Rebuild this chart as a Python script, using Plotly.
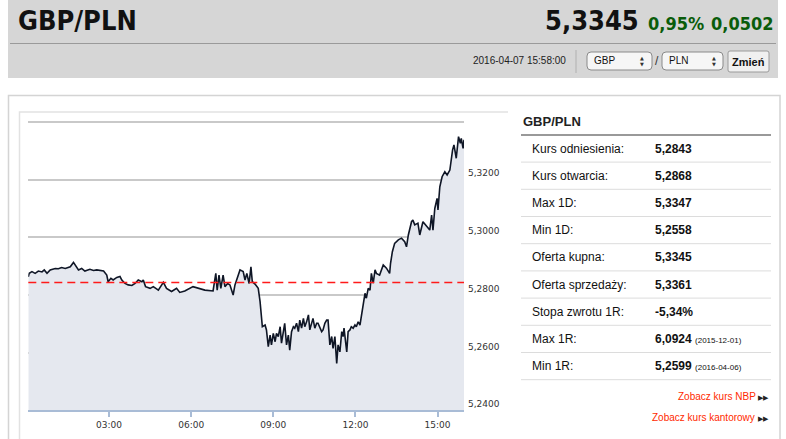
import datetime as dt
import plotly.graph_objects as go

# ---------------- data ----------------
minutes = [3, 5, 11, 18, 25, 33, 38, 44, 51, 62, 69, 76, 84, 95, 102, 106, 113, 120, 127, 138,
           146, 153, 168, 175, 178, 184, 189, 197, 204, 208, 215, 222, 230, 237, 244, 252, 255, 260, 268,
           270, 277, 288, 299, 306, 317, 328, 335, 346, 364, 375, 390, 408, 414, 417, 421, 425, 430,
           434, 440, 445, 452, 456, 467, 474, 478, 482, 487, 491, 494, 500,
           507, 511, 516, 522, 525, 529, 533, 536, 540, 544, 547, 551, 555, 558, 562, 565, 569, 573,
           576, 580, 584, 587, 591, 595, 598, 602, 606, 609, 613, 617, 620, 624, 627, 631, 635, 638,
           642, 646, 649, 653, 657, 660, 664, 668, 671, 675, 679, 682, 686, 690, 693, 695, 701, 704,
           708, 711, 715, 719, 722, 726, 730, 733, 737, 741, 744, 748, 752, 755, 759, 763, 766, 773,
           781, 788, 795, 797, 801, 806, 814, 821, 828, 832, 836, 843, 846, 850, 857, 861, 868, 876,
           883, 887, 890, 894, 899, 901, 905, 910, 916, 921, 927, 933, 936, 941, 943, 946, 950, 952,
           956, 958]
rates = [5.2863, 5.2875, 5.2881, 5.2875, 5.2883, 5.2880, 5.2887, 5.2875, 5.2887, 5.2892, 5.2891,
         5.2895, 5.2892, 5.2898, 5.2913, 5.2904, 5.2887, 5.2892, 5.2883, 5.2889, 5.2885, 5.2887,
         5.2883, 5.2869, 5.2846, 5.2858, 5.2852, 5.2861, 5.2864, 5.2852, 5.2840, 5.2835, 5.2833,
         5.2840, 5.2852, 5.2846, 5.2852, 5.2829, 5.2823,
         5.2823, 5.2829, 5.2817, 5.2844, 5.2823, 5.2812, 5.2823, 5.2809, 5.2814, 5.2829, 5.2823,
         5.2817, 5.2814, 5.2875, 5.2817, 5.2869, 5.2823, 5.2869, 5.2829, 5.2840, 5.2835, 5.2800,
         5.2835, 5.2887, 5.2881, 5.2852, 5.2875, 5.2840, 5.2898, 5.2846, 5.2838,
         5.2823, 5.2777, 5.2690, 5.2696, 5.2679, 5.2621, 5.2661, 5.2627, 5.2667, 5.2638, 5.2667,
         5.2656, 5.2690, 5.2633, 5.2679, 5.2702, 5.2627, 5.2661, 5.2609, 5.2673, 5.2690, 5.2685,
         5.2702, 5.2673, 5.2713, 5.2685, 5.2719, 5.2690, 5.2707, 5.2731, 5.2679, 5.2707, 5.2719,
         5.2685, 5.2702, 5.2702, 5.2690, 5.2673, 5.2679, 5.2702, 5.2713, 5.2713, 5.2627, 5.2656,
         5.2615, 5.2656, 5.2563, 5.2627, 5.2603, 5.2673, 5.2656, 5.2685, 5.2603, 5.2673, 5.2679,
         5.2690, 5.2685, 5.2696, 5.2690, 5.2707, 5.2696, 5.2731, 5.2777, 5.2806, 5.2789, 5.2823,
         5.2817, 5.2875, 5.2841, 5.2887, 5.2875, 5.2869, 5.2904, 5.2893, 5.2875, 5.2910, 5.2950,
         5.2979, 5.2991, 5.2997, 5.2985, 5.2967, 5.3008, 5.3054, 5.3060, 5.3043, 5.3049, 5.3008,
         5.3054, 5.3037, 5.3025, 5.3077, 5.3025, 5.3100, 5.3135, 5.3095, 5.3175, 5.3210, 5.3227,
         5.3216, 5.3233, 5.3303, 5.3320, 5.3274, 5.3308, 5.3349, 5.3326, 5.3343, 5.3308, 5.3338]

reference_rate = 5.2843
y_ticks = [5.24, 5.26, 5.28, 5.30, 5.32, 5.34]
y_tick_text = ["5,2400", "5,2600", "5,2800", "5,3000", "5,3200", ""]
y_range = [5.24, 5.342]
x_tick_hours = [3, 6, 9, 12, 15]

pair = "GBP/PLN"
last_rate = "5,3345"
change_pct = "0,95%"
change_abs = "0,0502"
timestamp = "2016-04-07 15:58:00"

table_labels = ["Kurs odniesienia:", "Kurs otwarcia:", "Max 1D:", "Min 1D:", "Oferta kupna:",
                "Oferta sprzedaży:", "Stopa zwrotu 1R:", "Max 1R:", "Min 1R:"]
table_values = ["5,2843", "5,2868", "5,3347", "5,2558", "5,3345", "5,3361", "-5,34%",
                "6,0924", "5,2599"]
table_dates = ["", "", "", "", "", "", "", "(2015-12-01)", "(2016-04-06)"]

# ---------------- helpers ----------------
W, H = 786, 439
base = dt.datetime(2016, 4, 7)
times = [base + dt.timedelta(minutes=m) for m in minutes]


def px(x):
    return x / W


def py(y):
    return 1 - y / H


fig = go.Figure()
fig.add_trace(go.Scatter(
    x=times, y=rates, mode="lines",
    line=dict(color="#0f1626", width=1.6),
    fill="tozeroy", fillcolor="rgb(229,232,239)",
    hoverinfo="skip", showlegend=False))

shapes = []
ann = []

# header
shapes.append(dict(type="rect", xref="paper", yref="paper", x0=px(8), x1=px(778), y0=py(0), y1=py(78),
                   fillcolor="#d6d6d6", line=dict(width=0), layer="below"))
shapes.append(dict(type="line", xref="paper", yref="paper", x0=px(10), x1=px(776), y0=py(43.5), y1=py(43.5),
                   line=dict(color="#9a9a9a", width=1)))
shapes.append(dict(type="line", xref="paper", yref="paper", x0=px(576), x1=px(576), y0=py(50), y1=py(73),
                   line=dict(color="#b0b0b0", width=1)))


def rrect(x0, y0, x1, y1, r, fill, line):
    path = (f"M {px(x0 + r)},{py(y0)} L {px(x1 - r)},{py(y0)} Q {px(x1)},{py(y0)} {px(x1)},{py(y0 + r)} "
            f"L {px(x1)},{py(y1 - r)} Q {px(x1)},{py(y1)} {px(x1 - r)},{py(y1)} "
            f"L {px(x0 + r)},{py(y1)} Q {px(x0)},{py(y1)} {px(x0)},{py(y1 - r)} "
            f"L {px(x0)},{py(y0 + r)} Q {px(x0)},{py(y0)} {px(x0 + r)},{py(y0)} Z")
    return dict(type="path", xref="paper", yref="paper", path=path, fillcolor=fill,
                line=dict(color=line, width=1))


shapes.append(rrect(587, 52, 652, 70, 4, "#f6f6f6", "#8a8a8a"))
shapes.append(rrect(662, 52, 723, 70, 4, "#f6f6f6", "#8a8a8a"))
shapes.append(rrect(728, 51, 769, 72, 2, "#f0f0f0", "#9a9a9a"))

hfont = "Liberation Sans Narrow, DejaVu Sans Condensed, Arial Narrow, sans-serif"
ann.append(dict(x=px(16), y=py(21), text=f"<b>{pair}</b>", xanchor="left", yanchor="middle",
                font=dict(family=hfont, size=27, color="#111")))
ann.append(dict(x=px(641), y=py(21), text=f"<b>{last_rate}</b>", xanchor="right", yanchor="middle",
                font=dict(family=hfont, size=27, color="#111")))
ann.append(dict(x=px(646), y=py(23), text=f"<b>{change_pct}</b>", xanchor="left", yanchor="middle",
                font=dict(family=hfont, size=18, color="#0a5c0a")))
ann.append(dict(x=px(776), y=py(23), text=f"<b>{change_abs}</b>", xanchor="right", yanchor="middle",
                font=dict(family=hfont, size=18, color="#0a5c0a")))
ann.append(dict(x=px(568), y=py(61), text=timestamp, xanchor="right", yanchor="middle",
                font=dict(family="Liberation Sans Narrow, Arial Narrow, sans-serif", size=10, color="#222")))
ann.append(dict(x=px(592), y=py(61), text="GBP", xanchor="left", yanchor="middle",
                font=dict(family="Liberation Sans Narrow, sans-serif", size=10, color="#111")))
ann.append(dict(x=px(667), y=py(61), text="PLN", xanchor="left", yanchor="middle",
                font=dict(family="Liberation Sans Narrow, sans-serif", size=10, color="#111")))
for xa in (642, 714):
    ann.append(dict(x=px(xa), y=py(58), text="▲", xanchor="center", yanchor="middle",
                    font=dict(family="DejaVu Sans", size=5, color="#333")))
    ann.append(dict(x=px(xa), y=py(64), text="▼", xanchor="center", yanchor="middle",
                    font=dict(family="DejaVu Sans", size=5, color="#333")))
ann.append(dict(x=px(657), y=py(61), text="/", xanchor="center", yanchor="middle",
                font=dict(family="Liberation Sans", size=12, color="#333")))
ann.append(dict(x=px(748.5), y=py(61.5), text="<b>Zmień</b>", xanchor="center", yanchor="middle",
                font=dict(family="Liberation Sans Narrow, sans-serif", size=11, color="#111")))

# panel borders
shapes.append(dict(type="path", xref="paper", yref="paper",
                   path=f"M {px(8.5)},{py(445)} L {px(8.5)},{py(95.5)} L {px(780)},{py(95.5)} L {px(780)},{py(445)}",
                   line=dict(color="#d4d4d4", width=1.5)))
shapes.append(dict(type="path", xref="paper", yref="paper",
                   path=f"M {px(19.5)},{py(445)} L {px(19.5)},{py(112)} L {px(508)},{py(112)}",
                   line=dict(color="#e2e2e2", width=1.5)))

# reference line
shapes.append(dict(type="line", xref="x domain", yref="y", x0=0, x1=1, y0=reference_rate, y1=reference_rate,
                   line=dict(color="#ff1a1a", width=1.5, dash="8px,5px")))

# right table
tfont = "Liberation Sans, Arial, sans-serif"
ann.append(dict(x=px(521), y=py(121), text=f"<b>{pair}</b>", xanchor="left", yanchor="middle",
                font=dict(family=tfont, size=13, color="#222")))
shapes.append(dict(type="line", xref="paper", yref="paper", x0=px(521), x1=px(771), y0=py(135), y1=py(135),
                   line=dict(color="#777", width=1.5)))
row_h = 27.2
for i, (lab, val, dte) in enumerate(zip(table_labels, table_values, table_dates)):
    yc = 148.5 + i * row_h
    ann.append(dict(x=px(530), y=py(yc), text=lab, xanchor="left", yanchor="middle",
                    font=dict(family=tfont, size=12, color="#111")))
    txt = f"<b>{val}</b>"
    if dte:
        txt += f" <span style='font-size:8px'>{dte}</span>"
    ann.append(dict(x=px(653), y=py(yc), text=txt, xanchor="left", yanchor="middle",
                    font=dict(family=tfont, size=12, color="#111")))
    shapes.append(dict(type="line", xref="paper", yref="paper", x0=px(521), x1=px(771),
                       y0=py(yc + 13.6), y1=py(yc + 13.6), line=dict(color="#dcdcdc", width=1)))

ann.append(dict(x=px(771), y=py(396), xanchor="right", yanchor="middle",
                text="<span style='color:#ff2a00'>Zobacz kurs NBP</span> <span style='font-size:7px'>▶▶</span>",
                font=dict(family=tfont, size=10, color="#222")))
ann.append(dict(x=px(771), y=py(417), xanchor="right", yanchor="middle",
                text="<span style='color:#ff2a00'>Zobacz kurs kantorowy</span> <span style='font-size:7px'>▶▶</span>",
                font=dict(family=tfont, size=10, color="#222")))

for a in ann:
    a.setdefault("xref", "paper")
    a.setdefault("yref", "paper")
    a.setdefault("showarrow", False)

x_start = base + dt.timedelta(minutes=3)
x_end = base + dt.timedelta(minutes=minutes[-1])
tick_times = [base + dt.timedelta(hours=h) for h in x_tick_hours]

# pixel positions of the axis range (5.24 at y=410.4, 2885 px per unit)
y_bottom_px = 410.4
y_top_px = y_bottom_px - (y_range[1] - y_range[0]) * 2885

fig.update_layout(
    width=W, height=H,
    margin=dict(l=0, r=0, t=0, b=0),
    paper_bgcolor="white", plot_bgcolor="white",
    separators=",.",
    showlegend=False,
    shapes=shapes, annotations=ann,
    xaxis=dict(domain=[px(28.3), px(464)], range=[x_start, x_end], type="date",
               tickvals=tick_times, ticktext=[f"{h:02d}:00" for h in x_tick_hours],
               showgrid=False, zeroline=False,
               showline=True, linecolor="#a9bcd6", linewidth=1.5,
               ticks="outside", ticklen=5, tickwidth=1.5, tickcolor="#a9bcd6",
               tickfont=dict(family="DejaVu Sans", size=9, color="#333")),
    yaxis=dict(domain=[py(y_bottom_px), py(y_top_px)], range=y_range, side="right",
               tickvals=y_ticks, ticktext=y_tick_text,
               showgrid=True, gridcolor="#c9c9c9", gridwidth=1.5, zeroline=False,
               ticks="", ticklabelposition="outside top", ticklabelstandoff=3,
               tickfont=dict(family="DejaVu Sans", size=9, color="#333")),
)

fig.write_html("out.html", config={"displayModeBar": False},
               post_script="document.body.style.margin='0';document.body.style.overflow='hidden';")
